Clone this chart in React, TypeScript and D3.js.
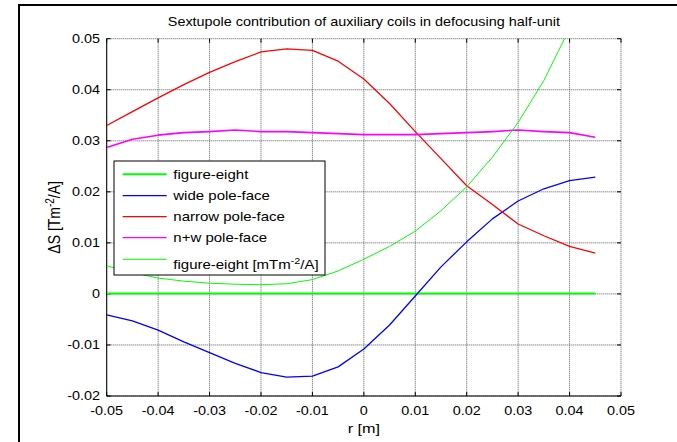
import React from "react";
import * as d3 from "d3";

const rValues = [-0.05, -0.045, -0.04, -0.035, -0.03, -0.025, -0.02, -0.015, -0.01, -0.005, 0, 0.005, 0.01, 0.015, 0.02, 0.025, 0.03, 0.035, 0.04, 0.045];
const figureEight = [0.0001, 0.0001, 0.0001, 0.0001, 0.0001, 0.0001, 0.0001, 0.0001, 0.0001, 0.0001, 0.0001, 0.0001, 0.0001, 0.0001, 0.0001, 0.0001, 0.0001, 0.0001, 0.0001, 0.0001];
const widePoleFace = [-0.0041, -0.0053, -0.0071, -0.0094, -0.0115, -0.0136, -0.0154, -0.0163, -0.0161, -0.0143, -0.0108, -0.0061, -0.0004, 0.0053, 0.0102, 0.0147, 0.0182, 0.0206, 0.0222, 0.0229];
const narrowPoleFace = [0.0330, 0.0357, 0.0384, 0.0410, 0.0434, 0.0455, 0.0474, 0.0480, 0.0477, 0.0456, 0.0421, 0.0373, 0.0318, 0.0265, 0.0212, 0.0175, 0.0137, 0.0114, 0.0093, 0.0080];
const nwPoleFace = [0.0287, 0.0303, 0.0311, 0.0316, 0.0318, 0.0321, 0.0318, 0.0318, 0.0316, 0.0314, 0.0312, 0.0312, 0.0312, 0.0314, 0.0316, 0.0318, 0.0321, 0.0318, 0.0316, 0.0307];
const figureEightMilli = [0.0055, 0.0042, 0.0031, 0.0025, 0.0021, 0.0019, 0.0018, 0.0020, 0.0028, 0.0045, 0.0068, 0.0093, 0.0123, 0.0163, 0.0210, 0.0268, 0.0336, 0.0418, 0.0520, 0.0640];

const xTicks = [-0.05, -0.04, -0.03, -0.02, -0.01, 0, 0.01, 0.02, 0.03, 0.04, 0.05];
const xTickLabels = ["-0.05", "-0.04", "-0.03", "-0.02", "-0.01", "0", "0.01", "0.02", "0.03", "0.04", "0.05"];
const yTicks = [-0.02, -0.01, 0, 0.01, 0.02, 0.03, 0.04, 0.05];
const yTickLabels = ["-0.02", "-0.01", "0", "0.01", "0.02", "0.03", "0.04", "0.05"];

const seriesNames = ["figure-eight", "wide pole-face", "narrow pole-face", "n+w pole-face", "figure-eight [mTm"];
const seriesColors = ["#00ff00", "#0000ff", "#ff0000", "#ff00ff", "#00ff00"];

const W = 677;
const H = 442;
const L = 106.7;
const R = 621;
const T = 38.7;
const B = 396;
const FONT = "'Liberation Sans', Arial, sans-serif";
const SX = 1.2;

function Txt(props: { x: number; y: number; anchor?: string; size?: number; children: React.ReactNode }) {
  const { x, y, anchor = "start", size = 12, children } = props;
  return (
    <text transform={`translate(${x},${y}) scale(${SX},1)`} textAnchor={anchor} fontSize={size} fill="#000">
      {children}
    </text>
  );
}

export default function App() {
  const x = d3.scaleLinear().domain([-0.05, 0.05]).range([L, R]);
  const y = d3.scaleLinear().domain([-0.02, 0.05]).range([B, T]);
  const line = (vals: number[]) =>
    d3.line<number>().x((_, i) => x(rValues[i])).y((v) => y(v))(vals) || "";

  const series = [
    { vals: figureEight, color: seriesColors[0], w: 2 },
    { vals: widePoleFace, color: seriesColors[1], w: 1.3 },
    { vals: narrowPoleFace, color: seriesColors[2], w: 1.3 },
    { vals: nwPoleFace, color: seriesColors[3], w: 1.6 },
    { vals: figureEightMilli, color: seriesColors[4], w: 1 },
  ];

  const legendX = 114;
  const legendY = 161;
  const legendW = 211;
  const legendH = 114;
  const legendRows = [174.3, 195.7, 216.7, 237.7, 259.3];
  const legendWidths = [2, 1.3, 1.3, 1.3, 1];

  return (
    <svg width={W} height={H} style={{ position: "absolute", left: 0, top: 0, background: "#fff" }} fontFamily={FONT}>
      <rect x={0} y={0} width={W} height={H} fill="#fff" />
      <line x1={18} y1={5} x2={W} y2={5} stroke="#000" strokeWidth={2} />
      <line x1={19} y1={4} x2={19} y2={H} stroke="#000" strokeWidth={2} />

      <defs>
        <clipPath id="plotclip">
          <rect x={L} y={T} width={R - L} height={B - T} />
        </clipPath>
      </defs>

      {xTicks.map((t, i) => (
        <line key={"gx" + i} x1={x(t)} x2={x(t)} y1={T} y2={B} stroke="#5a5a5a" strokeWidth={1} strokeDasharray="1 1" />
      ))}
      {yTicks.map((t, i) => (
        <line key={"gy" + i} x1={L} x2={R} y1={y(t)} y2={y(t)} stroke="#5a5a5a" strokeWidth={1} strokeDasharray="1 1" />
      ))}

      <line x1={L} x2={L} y1={T} y2={B} stroke="#000" strokeWidth={1} />
      <line x1={L} x2={R} y1={B} y2={B} stroke="#000" strokeWidth={1} />
      {xTicks.map((t, i) => (
        <g key={"tx" + i}>
          <line x1={x(t)} x2={x(t)} y1={B} y2={B - 4} stroke="#000" strokeWidth={1} />
          <line x1={x(t)} x2={x(t)} y1={T} y2={T + 4} stroke="#000" strokeWidth={1} />
          <Txt x={x(t)} y={415} anchor="middle">{xTickLabels[i]}</Txt>
        </g>
      ))}
      {yTicks.map((t, i) => (
        <g key={"ty" + i}>
          <line x1={L} x2={L + 4} y1={y(t)} y2={y(t)} stroke="#000" strokeWidth={1} />
          <line x1={R} x2={R - 4} y1={y(t)} y2={y(t)} stroke="#000" strokeWidth={1} />
          <Txt x={100} y={y(t) + 4.3} anchor="end">{yTickLabels[i]}</Txt>
        </g>
      ))}

      <g clipPath="url(#plotclip)">
        {series.map((s, i) => (
          <path key={"s" + i} d={line(s.vals)} fill="none" stroke={s.color} strokeWidth={s.w} strokeLinejoin="round" />
        ))}
      </g>

      <Txt x={(L + R) / 2} y={26} anchor="middle">
        Sextupole contribution of auxiliary coils in defocusing half-unit
      </Txt>
      <Txt x={(L + R) / 2} y={433} anchor="middle" size={13.5}>r [m]</Txt>
      <text transform={`translate(60, ${(T + B) / 2}) scale(${SX},1) rotate(-90)`} textAnchor="middle" fontSize={14} fill="#000">
        ΔS [Tm<tspan dy={-5} fontSize={10}>-2</tspan><tspan dy={5}>/A]</tspan>
      </text>

      <rect x={legendX} y={legendY} width={legendW} height={legendH} fill="#fff" stroke="#000" strokeWidth={1} />
      {seriesNames.map((n, i) => (
        <g key={"lg" + i}>
          <line x1={122.7} x2={166.7} y1={legendRows[i]} y2={legendRows[i]} stroke={seriesColors[i]} strokeWidth={legendWidths[i]} />
          <Txt x={173.3} y={(i === 4 ? 264.3 : legendRows[i]) + 4.5} size={12.5}>
            {n}
            {i === 4 ? (
              <>
                <tspan dy={-5} fontSize={9}>-2</tspan>
                <tspan dy={5}>/A]</tspan>
              </>
            ) : null}
          </Txt>
        </g>
      ))}
    </svg>
  );
}
